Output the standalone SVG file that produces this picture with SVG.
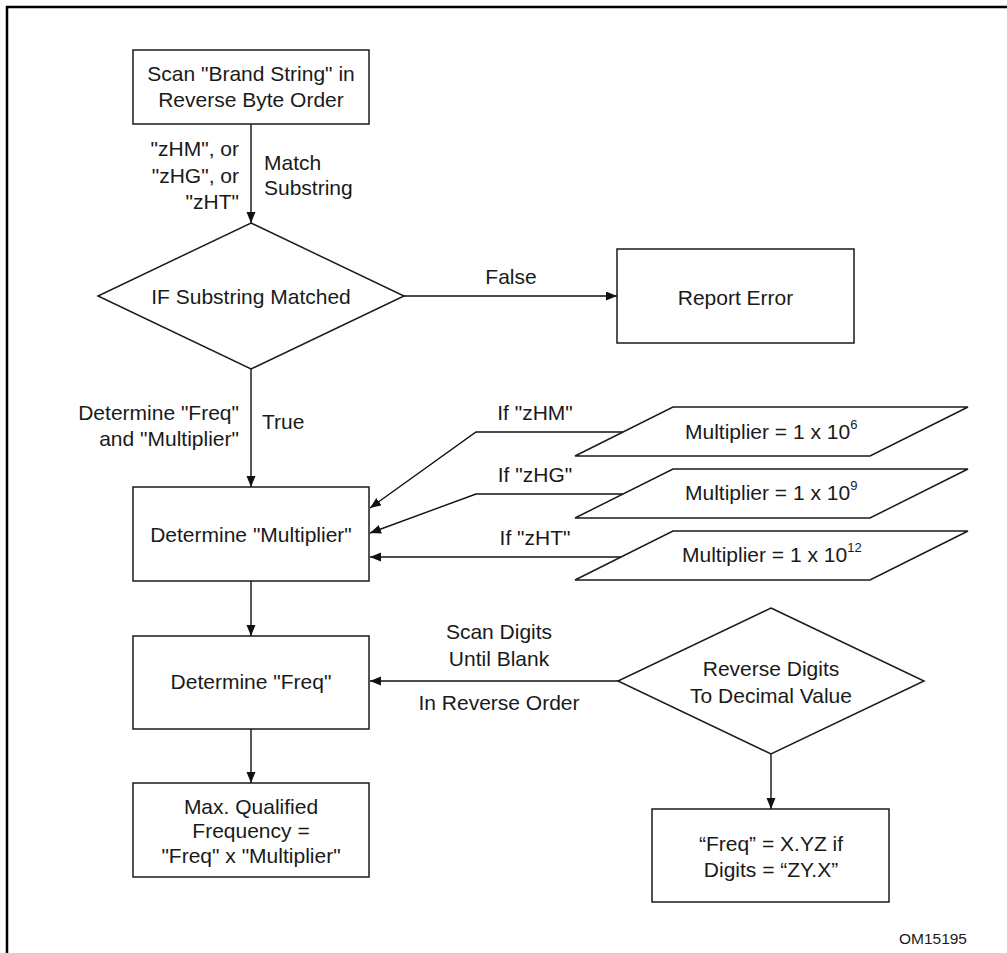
<svg xmlns="http://www.w3.org/2000/svg" width="1007" height="953" viewBox="0 0 1007 953">
<style>
  .shape { fill: #ffffff; stroke: #1a1a1a; stroke-width: 1.5; }
  .conn { fill: none; stroke: #111111; stroke-width: 1.4; }
  text { font-family: "Liberation Sans", Arial, sans-serif; font-size: 21px; fill: #1a1a1a; }
  .c { text-anchor: middle; }
  .e { text-anchor: end; }
  .sup { font-size: 13px; }
  .small { font-size: 15.5px; }
</style>
<defs>
  <marker id="arrow" markerUnits="userSpaceOnUse" markerWidth="12" markerHeight="10" refX="11" refY="4.5" orient="auto">
    <path d="M0,0 L11,4.5 L0,9 z" fill="#111111"/>
  </marker>
</defs>
<rect width="1007" height="953" fill="#ffffff"/>
<path d="M7,953 L7,7 L1007,7" fill="none" stroke="#000000" stroke-width="2.5"/>

<g id="connectors">
  <line class="conn" x1="251" y1="124" x2="251" y2="223" marker-end="url(#arrow)"/>
  <line class="conn" x1="404" y1="296" x2="617" y2="296" marker-end="url(#arrow)"/>
  <line class="conn" x1="251" y1="369" x2="251" y2="487" marker-end="url(#arrow)"/>
  <polyline class="conn" points="623,432 476,432 370,508" marker-end="url(#arrow)"/>
  <polyline class="conn" points="623,494 476,494 370,533" marker-end="url(#arrow)"/>
  <line class="conn" x1="621" y1="557" x2="370" y2="557" marker-end="url(#arrow)"/>
  <line class="conn" x1="251" y1="581" x2="251" y2="636" marker-end="url(#arrow)"/>
  <line class="conn" x1="251" y1="729" x2="251" y2="783" marker-end="url(#arrow)"/>
  <line class="conn" x1="618" y1="681" x2="370" y2="681" marker-end="url(#arrow)"/>
  <line class="conn" x1="771" y1="754" x2="771" y2="809" marker-end="url(#arrow)"/>
  <text class="e" x="239" y="156">"zHM", or</text>
  <text class="e" x="239" y="183">"zHG", or</text>
  <text class="e" x="239" y="209">"zHT"</text>
  <text x="264" y="170">Match</text>
  <text x="264" y="195">Substring</text>
  <text class="c" x="511" y="284">False</text>
  <text class="e" x="239" y="420">Determine "Freq"</text>
  <text class="e" x="239" y="446">and "Multiplier"</text>
  <text x="262" y="429">True</text>
  <text class="c" x="535" y="420">If "zHM"</text>
  <text class="c" x="535" y="482">If "zHG"</text>
  <text class="c" x="535" y="545">If "zHT"</text>
  <text class="c" x="499" y="639">Scan Digits</text>
  <text class="c" x="499" y="666">Until Blank</text>
  <text class="c" x="499" y="710">In Reverse Order</text>
</g>

<g id="scan">
  <rect class="shape" x="133" y="50" width="236" height="74"/>
  <text class="c" x="251" y="81">Scan "Brand String" in</text>
  <text class="c" x="251" y="107">Reverse Byte Order</text>
</g>

<g id="if-matched">
  <polygon class="shape" points="251,223 404,296 251,369 98,296"/>
  <text class="c" x="251" y="304">IF Substring Matched</text>
</g>

<g id="report-error">
  <rect class="shape" x="617" y="249" width="237" height="94"/>
  <text class="c" x="735.5" y="305">Report Error</text>
</g>

<g id="det-multiplier">
  <rect class="shape" x="133" y="487" width="236" height="94"/>
  <text class="c" x="251" y="542">Determine "Multiplier"</text>
</g>

<g id="mult6">
  <polygon class="shape" points="673,407 968,407 870,456 575,456"/>
  <text x="685" y="439">Multiplier = 1 x 10<tspan class="sup" dy="-10">6</tspan></text>
</g>

<g id="mult9">
  <polygon class="shape" points="673,469 968,469 870,518 575,518"/>
  <text x="685" y="500">Multiplier = 1 x 10<tspan class="sup" dy="-10">9</tspan></text>
</g>

<g id="mult12">
  <polygon class="shape" points="673,531 968,531 870,580 575,580"/>
  <text x="682" y="562">Multiplier = 1 x 10<tspan class="sup" dy="-10">12</tspan></text>
</g>

<g id="det-freq">
  <rect class="shape" x="133" y="636" width="236" height="93"/>
  <text class="c" x="251" y="689">Determine "Freq"</text>
</g>

<g id="reverse-digits">
  <polygon class="shape" points="771,608 924,681 771,754 618,681"/>
  <text class="c" x="771" y="676">Reverse Digits</text>
  <text class="c" x="771" y="703">To Decimal Value</text>
</g>

<g id="max-freq">
  <rect class="shape" x="133" y="783" width="236" height="94"/>
  <text class="c" x="251" y="814">Max. Qualified</text>
  <text class="c" x="251" y="838">Frequency =</text>
  <text class="c" x="251" y="863">"Freq" x "Multiplier"</text>
</g>

<g id="freq-value">
  <rect class="shape" x="652" y="809" width="237" height="93"/>
  <text class="c" x="771" y="851">“Freq” = X.YZ if</text>
  <text class="c" x="771" y="877">Digits = “ZY.X”</text>
</g>

<text class="small e" x="967" y="944">OM15195</text>
</svg>
